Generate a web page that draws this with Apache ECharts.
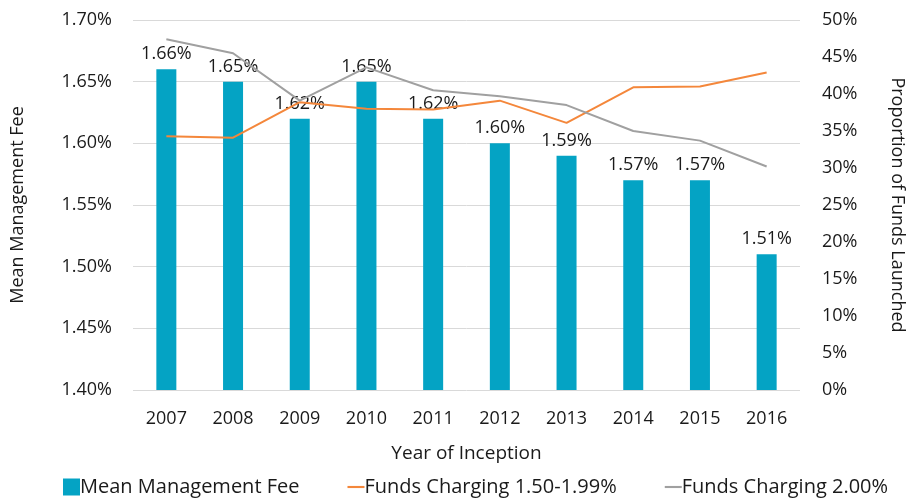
<!DOCTYPE html>
<html>
<head>
<meta charset="utf-8">
<script src="https://cdn.jsdelivr.net/npm/echarts@6/dist/echarts.min.js"></script>
<style>
  html, body { margin: 0; padding: 0; background: #fff; }
  #chart { width: 919px; height: 500px; }
</style>
</head>
<body>
<div id="chart"></div>
<script>
// data
var years = ['2007', '2008', '2009', '2010', '2011', '2012', '2013', '2014', '2015', '2016']
var meanFee = [1.66, 1.65, 1.62, 1.65, 1.62, 1.60, 1.59, 1.57, 1.57, 1.51]
var funds150 = [34.3, 34.1, 38.9, 38.0, 37.9, 39.1, 36.1, 40.9, 41.0, 42.9]
var funds200 = [47.4, 45.5, 39.1, 43.6, 40.5, 39.7, 38.5, 35.0, 33.7, 30.2]

var font = 'Open Sans'
var chart = echarts.init(document.getElementById('chart'))

var option = {
    animation: false,
    textStyle: { fontFamily: font, color: '#1a1a1a' },
    grid: {
        left: 133,
        right: 119,
        top: 20,
        bottom: 110
    },
    legend: {
        left: 58,
        bottom: -2,
        itemGap: 48,
        itemWidth: 17,
        itemHeight: 17,
        textStyle: { fontSize: 20, color: '#1a1a1a', fontFamily: font, padding: [0, 0, 0, -5] },
        data: [
            { name: 'Mean Management Fee', icon: 'path://M0,0H16V16H0Z' },
            { name: 'Funds Charging 1.50-1.99%', icon: 'path://M0,0H16V2H0Z' },
            { name: 'Funds Charging 2.00%', icon: 'path://M0,0H16V2H0Z' }
        ]
    },
    xAxis: {
        type: 'category',
        data: years,
        name: 'Year of Inception',
        nameLocation: 'middle',
        nameGap: 54,
        nameTextStyle: { fontSize: 19, color: '#1a1a1a' },
        axisLine: { show: false },
        axisTick: { show: false },
        axisLabel: { fontSize: 18, color: '#1a1a1a', margin: 20 }
    },
    yAxis: [
        {
            type: 'value',
            min: 1.40,
            max: 1.70,
            interval: 0.05,
            name: 'Mean Management Fee',
            nameLocation: 'middle',
            nameGap: 106,
            nameTextStyle: { fontSize: 18, color: '#1a1a1a' },
            axisLine: { show: false },
            axisTick: { show: false },
            axisLabel: {
                fontSize: 18,
                color: '#1a1a1a',
                margin: 21,
                formatter: function (v) { return v.toFixed(2) + '%' }
            },
            splitLine: { lineStyle: { color: '#d9d9d9', width: 1 } }
        },
        {
            type: 'value',
            min: 0,
            max: 50,
            interval: 5,
            name: 'Proportion of Funds Launched',
            nameLocation: 'middle',
            nameRotate: -90,
            nameGap: 88,
            nameTextStyle: { fontSize: 18, color: '#1a1a1a' },
            axisLine: { show: false },
            axisTick: { show: false },
            axisLabel: {
                fontSize: 18,
                color: '#1a1a1a',
                margin: 22,
                formatter: function (v) { return v + '%' }
            },
            splitLine: { show: false }
        }
    ],
    series: [
        {
            name: 'Mean Management Fee',
            type: 'bar',
            barWidth: 20,
            data: meanFee,
            itemStyle: { color: '#04a3c4' },
            label: {
                show: true,
                position: 'top',
                distance: 6,
                fontSize: 18,
                color: '#1a1a1a',
                formatter: function (p) { return p.value.toFixed(2) + '%' }
            }
        },
        {
            name: 'Funds Charging 1.50-1.99%',
            type: 'line',
            yAxisIndex: 1,
            data: funds150,
            showSymbol: false,
            symbol: 'none',
            lineStyle: { color: '#f4873b', width: 2 },
            itemStyle: { color: '#f4873b' }
        },
        {
            name: 'Funds Charging 2.00%',
            type: 'line',
            yAxisIndex: 1,
            data: funds200,
            showSymbol: false,
            symbol: 'none',
            lineStyle: { color: '#a0a0a0', width: 2 },
            itemStyle: { color: '#a0a0a0' }
        }
    ]
}
chart.setOption(option)
</script>
</body>
</html>
